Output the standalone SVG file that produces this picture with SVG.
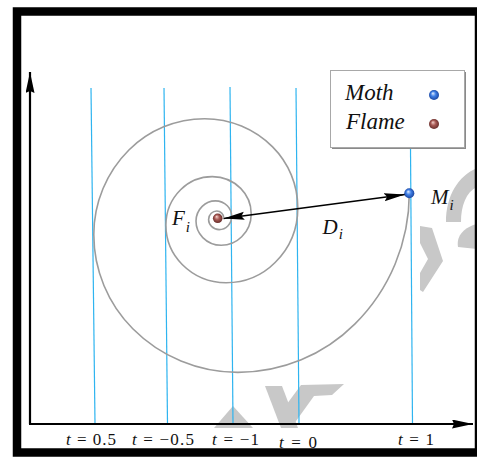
<svg xmlns="http://www.w3.org/2000/svg" width="477" height="457" viewBox="0 0 477 457">
<style>
.frame{fill:none;stroke:#000;stroke-width:8.5}
.wm{fill:#c8c8c8}
.tline{stroke:#2eb4f0;stroke-width:1.2;fill:none}
.spiral{fill:none;stroke:#9c9c9c;stroke-width:1.6}
.axis{stroke:#000;stroke-width:2.2;fill:none}
.dist{stroke:#000;stroke-width:1.5;fill:none}
.lbl{font-family:"Liberation Serif","Times New Roman",serif;font-style:italic;fill:#111}
.tick{font-family:"Liberation Serif","Times New Roman",serif;font-size:17px;fill:#111}
.it{font-style:italic}
</style>
<defs>
<marker id="axhead" markerUnits="userSpaceOnUse" markerWidth="22" markerHeight="10" refX="21" refY="4.5" orient="auto" viewBox="0 0 22 10">
<path d="M0,0 L21,4.5 L0,9 L2,4.5 Z" fill="#000"/>
</marker>
<marker id="dhead" markerUnits="userSpaceOnUse" markerWidth="22" markerHeight="10" refX="21" refY="4.5" orient="auto-start-reverse" viewBox="0 0 22 10">
<path d="M0,0.5 L21,4.5 L0,8.5 L3,4.5 Z" fill="#000"/>
</marker>
<radialGradient id="gMoth" cx="0.5" cy="0.5" r="0.55" fx="0.38" fy="0.32">
<stop offset="0" stop-color="#e6f0ff"/>
<stop offset="0.45" stop-color="#3f7fe6"/>
<stop offset="1" stop-color="#173e96"/>
</radialGradient>
<radialGradient id="gFlame" cx="0.5" cy="0.5" r="0.55" fx="0.38" fy="0.32">
<stop offset="0" stop-color="#f6d2cc"/>
<stop offset="0.45" stop-color="#a85a55"/>
<stop offset="1" stop-color="#5e2724"/>
</radialGradient>
</defs>
<rect x="0" y="0" width="477" height="457" fill="#fff"/>

<g id="watermark">
<path class="wm" d="M446,222 C446,196 458,176 477,168 L477,187 C466,192 461,206 461,222 Z"/>
<path class="wm" d="M477,224 C465,227 456,235 458,247 L477,249 Z"/>
<path class="wm" d="M420,226 L432,228 L443,261 L423,292 L420,290 L420,273 L428,259 L420,243 Z"/>
<path class="wm" d="M214,428 L233,406 L253,428 Z"/>
<path class="wm" d="M265,386 L282,386 L298,428 L281,428 Z"/>
<path class="wm" d="M281,412 L301,385 L344,384 L332,395 L314,396 L291,428 L284,428 Z"/>
</g>

<g id="frame">
<rect x="17" y="11.5" width="462" height="441" class="frame"/>
</g>

<g id="tlines">
<line class="tline" x1="91" y1="88" x2="95" y2="424"/>
<line class="tline" x1="164" y1="88" x2="167.5" y2="424"/>
<line class="tline" x1="230" y1="87" x2="233" y2="424"/>
<line class="tline" x1="296" y1="88" x2="299" y2="424"/>
<line class="tline" x1="410.5" y1="148" x2="412.5" y2="424"/>
</g>

<g id="spiral">
<path class="spiral" d="M223.6,217.5 A6.30,6.30 0 0 0 221.7,213.1 A7.02,7.02 0 0 0 216.8,211.0 A7.84,7.84 0 0 0 211.2,213.3 A8.74,8.74 0 0 0 208.6,219.5 A9.74,9.74 0 0 0 211.5,226.4 A10.87,10.87 0 0 0 219.2,229.6 A12.12,12.12 0 0 0 227.8,226.0 A13.52,13.52 0 0 0 231.7,216.5 A15.07,15.07 0 0 0 227.3,205.8 A16.81,16.81 0 0 0 215.4,200.9 A18.74,18.74 0 0 0 202.2,206.4 A20.89,20.89 0 0 0 196.0,221.1 A23.30,23.30 0 0 0 202.8,237.6 A25.99,25.99 0 0 0 221.2,245.3 A28.97,28.97 0 0 0 241.7,236.8 A32.31,32.31 0 0 0 251.2,213.9 A36.03,36.03 0 0 0 240.7,188.4 A40.18,40.18 0 0 0 212.3,176.6 A44.80,44.80 0 0 0 180.6,189.7 A49.96,49.96 0 0 0 165.9,225.1 A55.71,55.71 0 0 0 182.2,264.5 A62.13,62.13 0 0 0 226.1,282.7 A69.28,69.28 0 0 0 275.1,262.5 A77.25,77.25 0 0 0 297.8,207.9 A86.14,86.14 0 0 0 272.6,146.9 A96.06,96.06 0 0 0 204.7,118.7 A107.11,107.11 0 0 0 128.9,150.0 A119.45,119.45 0 0 0 93.8,234.5 A133.20,133.20 0 0 0 132.8,328.7 A148.53,148.53 0 0 0 237.8,372.4 A165.62,165.62 0 0 0 355.0,323.9 A184.70,184.70 0 0 0 409.3,193.3"/>
</g>

<g id="connectors">
<line class="axis" x1="30" y1="424" x2="30" y2="72" marker-end="url(#axhead)"/>
<line class="axis" x1="29" y1="424" x2="473" y2="424" marker-end="url(#axhead)"/>
<line class="dist" x1="223.5" y1="218.6" x2="405" y2="194.5" marker-start="url(#dhead)" marker-end="url(#dhead)"/>
</g>

<g id="flame">
<circle cx="217.7" cy="218.3" r="4.8" fill="url(#gFlame)"/>
<text class="lbl" x="172" y="225" font-size="21">F<tspan font-size="15" dx="1" dy="7">i</tspan></text>
</g>

<g id="moth">
<circle cx="409.3" cy="193.3" r="5" fill="url(#gMoth)"/>
<text class="lbl" x="431" y="203.5" font-size="21">M<tspan font-size="15" dx="1" dy="6.5">i</tspan></text>
</g>

<g id="distance-label">
<text class="lbl" x="322.5" y="233.5" font-size="21">D<tspan font-size="15" dx="1" dy="5.5">i</tspan></text>
</g>

<g id="legend">
<rect x="332" y="72" width="134" height="77" fill="#8a8a8a"/>
<rect x="330.5" y="70.5" width="134" height="77" fill="#fff" stroke="#a8a8a8" stroke-width="1"/>
<text class="lbl" x="345" y="100" font-size="23">Moth</text>
<text class="lbl" x="346" y="129" font-size="23">Flame</text>
<circle cx="434" cy="95" r="5" fill="url(#gMoth)"/>
<circle cx="434" cy="124" r="5" fill="url(#gFlame)"/>
</g>

<g id="ticks">
<text class="tick" x="66" y="444.5" textLength="50" lengthAdjust="spacing"><tspan class="it">t</tspan> = 0.5</text>
<text class="tick" x="132" y="444.5" textLength="62" lengthAdjust="spacing"><tspan class="it">t</tspan> = −0.5</text>
<text class="tick" x="212" y="444.5" textLength="47" lengthAdjust="spacing"><tspan class="it">t</tspan> = −1</text>
<text class="tick" x="279" y="447.5" textLength="38" lengthAdjust="spacing"><tspan class="it">t</tspan> = 0</text>
<text class="tick" x="398" y="444.5" textLength="36" lengthAdjust="spacing"><tspan class="it">t</tspan> = 1</text>
</g>
</svg>
